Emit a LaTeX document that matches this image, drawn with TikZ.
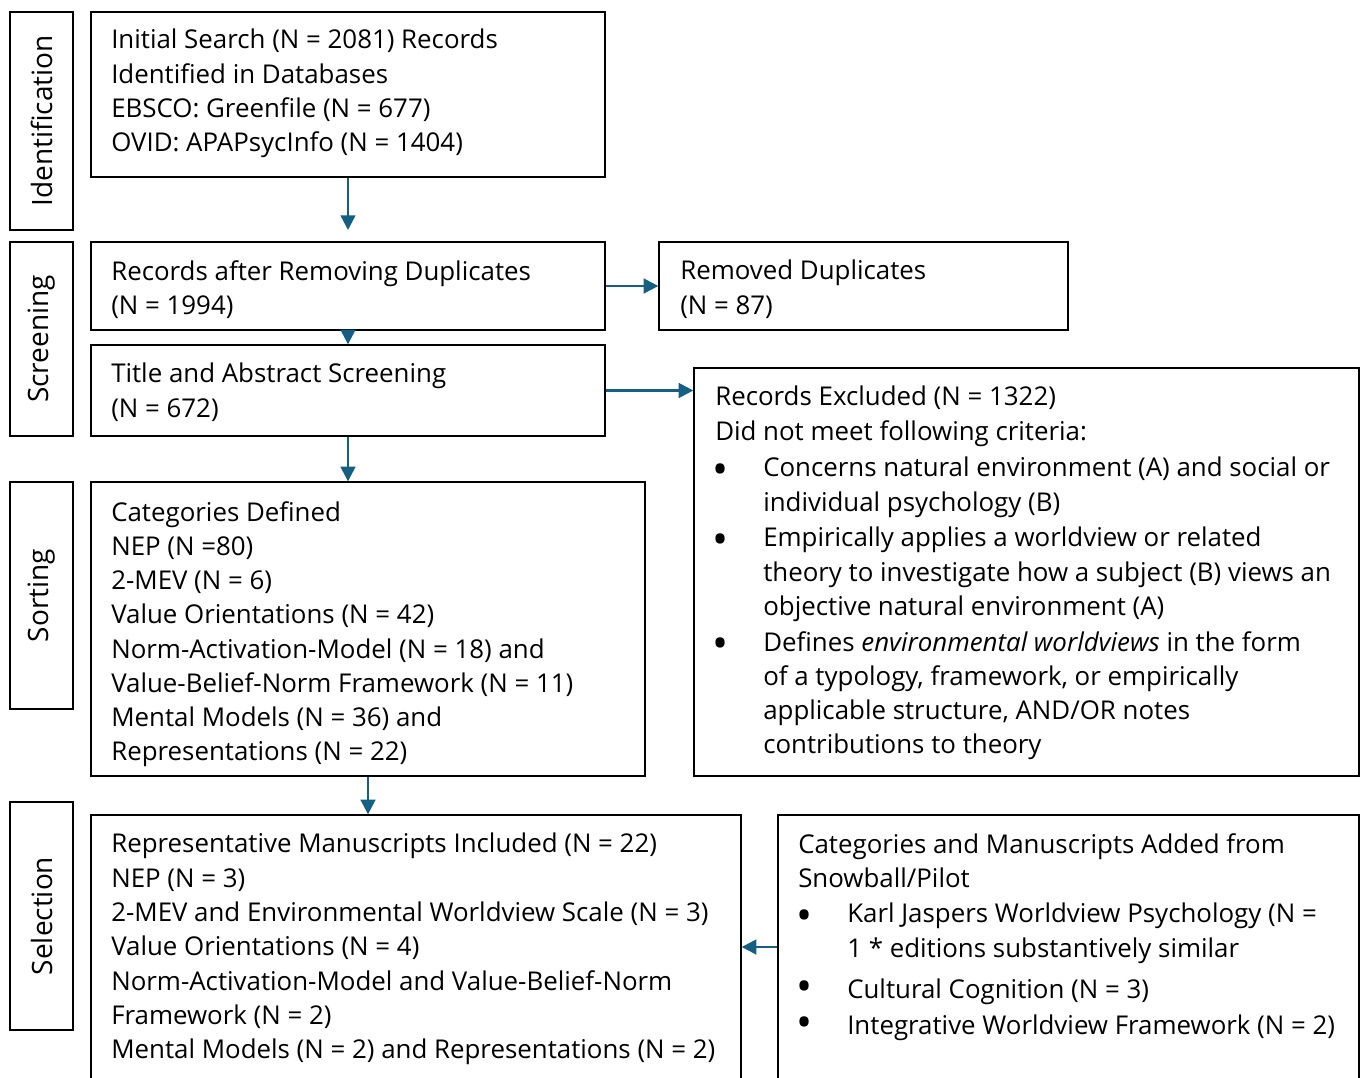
\documentclass[tikz,border=0pt]{standalone}
\usepackage{fontspec}
\setmainfont{Open Sans}
\usetikzlibrary{arrows.meta,fit}
\definecolor{arr}{RGB}{21,96,130}
\begin{document}
\begin{tikzpicture}[x=0.75pt,y=-0.75pt,
 box/.style={draw=black,line width=1pt,inner sep=0pt},
 txt/.style={anchor=north west,inner sep=0pt,align=left,font=\fontsize{19.4}{25.7}\selectfont,execute at begin node=\strut},
 bul/.style={anchor=center,inner sep=0pt,font=\fontsize{32}{32}\selectfont},
 arrow/.style={draw=arr,line width=1.9pt,-{Triangle[length=11pt,width=11pt]}},
 lbl/.style={rotate=90,inner sep=0pt,font=\fontsize{21}{25}\selectfont}]
\useasboundingbox (0,0) rectangle (1362,1077);
\clip (0,0) rectangle (1362,1077);
% stage labels
\node[box,fit={(10,12) (73,230)}] (l1) {};
\node[lbl] (t1) at (l1.center) {Identification};
\node[box,fit={(10,242) (73,436)}] (l2) {};
\node[lbl] (t2) at (l2.center) {Screening};
\node[box,fit={(10,482) (73,709)}] (l3) {};
\node[lbl] (t3) at (l3.center) {Sorting};
\node[box,fit={(10,802) (73,1030)}] (l4) {};
\node[lbl] (t4) at (l4.center) {Selection};
% boxes
\node[box,fit={(91,12) (605,177)}] (b1) {};
\node[txt] (x1) at (111,29) {Initial Search (N = 2081) Records\\Identified in Databases\\EBSCO: Greenfile (N = 677)\\OVID: APAPsycInfo (N = 1404)};
\node[box,fit={(91,242) (605,330)}] (b2) {};
\node[txt] (x2) at (111,260) {Records after Removing Duplicates\\(N = 1994)};
\node[box,fit={(659,242) (1068,330)}] (b3) {};
\node[txt] (x3) at (680,260) {Removed Duplicates\\(N = 87)};
\node[box,fit={(91,345) (605,436)}] (b4) {};
\node[txt] (x4) at (111,363) {Title and Abstract Screening\\(N = 672)};
\node[box,fit={(694,368) (1359,776)}] (b5) {};
\node[txt] (x5) at (715,386) {Records Excluded (N = 1322)\\Did not meet following criteria:};
\node[bul] (p51) at (721,474) {•};
\node[txt] (x51) at (763,457) {Concerns natural environment (A) and social or\\individual psychology (B)};
\node[bul] (p52) at (721,544) {•};
\node[txt] (x52) at (763,527) {Empirically applies a worldview or related\\theory to investigate how a subject (B) views an\\objective natural environment (A)};
\node[bul] (p53) at (721,648) {•};
\node[txt] (x53) at (763,631) {Defines \textit{environmental worldviews} in the form\\of a typology, framework, or empirically\\applicable structure, AND/OR notes\\contributions to theory};
\node[box,fit={(91,482) (645,776)}] (b6) {};
\node[txt] (x6) at (111,501) {Categories Defined\\NEP (N =80)\\2-MEV (N = 6)\\Value Orientations (N = 42)\\Norm-Activation-Model (N = 18) and\\Value-Belief-Norm Framework (N = 11)\\Mental Models (N = 36) and\\Representations (N = 22)};
\node[box,fit={(91,815) (741,1079)}] (b7) {};
\node[txt] (x7) at (111,833) {Representative Manuscripts Included (N = 22)\\NEP (N = 3)\\2-MEV and Environmental Worldview Scale (N = 3)\\Value Orientations (N = 4)\\Norm-Activation-Model and Value-Belief-Norm\\Framework (N = 2)\\Mental Models (N = 2) and Representations (N = 2)};
\node[box,fit={(778,815) (1359,1079)}] (b8) {};
\node[txt] (x8) at (798,833) {Categories and Manuscripts Added from\\Snowball/Pilot};
\node[bul] (p81) at (805,920) {•};
\node[txt] (x81) at (847,903) {Karl Jaspers Worldview Psychology (N =\\1 * editions substantively similar};
\node[bul] (p82) at (805,991) {•};
\node[txt] (x82) at (847,974) {Cultural Cognition (N = 3)};
\node[bul] (p83) at (805,1027) {•};
\node[txt] (x83) at (847,1010) {Integrative Worldview Framework (N = 2)};
% arrows
\coordinate (e1) at (348,230);
\draw[arrow] (b1.south) -- (e1);
\draw[arrow] (b2.east) -- (b3.west);
\draw[arrow] (b2.south) -- (b4.north);
\draw[arrow] (b4.east) -- (b4.east -| b5.west);
\draw[arrow] (b4.south) -- (b4.south |- b6.north);
\draw[arrow] (b6.south) -- (b6.south |- b7.north);
\draw[arrow] (b8.west) -- (b7.east);
\end{tikzpicture}
\end{document}
